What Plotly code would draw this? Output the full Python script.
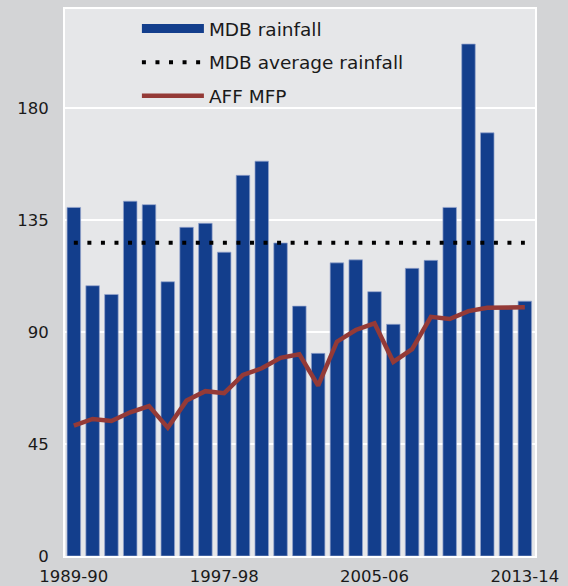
import plotly.graph_objects as go

# financial years 1989-90 .. 2013-14
years = [f"{y}-{str(y + 1)[-2:]}" for y in range(1989, 2014)]

# Murray-Darling Basin rainfall (index)
mdb_rainfall = [140.2, 108.7, 105.2, 142.7, 141.3, 110.3, 132.2, 133.8, 122.2, 153.1,
                158.8, 125.9, 100.5, 81.5, 117.9, 119.1, 106.3, 93.2, 115.7, 118.9,
                140.2, 205.9, 170.2, 99.5, 102.5]

# long-run average rainfall
mdb_average = [126.0] * len(years)

# agriculture, fisheries & forestry multifactor productivity
aff_mfp = [52.4, 55.1, 54.3, 57.8, 60.3, 51.6, 62.5, 66.3, 65.5, 72.8,
           75.5, 79.7, 81.1, 68.5, 86.2, 90.9, 93.6, 78.1, 83.2, 96.2,
           95.3, 98.5, 99.8, 100.0, 100.0]

tick_labels = ["1989-90", "1997-98", "2005-06", "2013-14"]

BLUE = "#133e8c"
RED = "#943a37"
FONT = "DejaVu Sans"

fig = go.Figure()

fig.add_trace(go.Bar(
    x=years, y=mdb_rainfall,
    marker=dict(color=BLUE, line=dict(color="rgba(150,165,205,0.7)", width=1)),
    showlegend=False,
))

# legend stand-in for the bars (wide block symbol)
fig.add_trace(go.Scatter(
    x=[None], y=[None], mode="lines",
    line=dict(color=BLUE, width=9),
    name="MDB rainfall", legendgroup="a",
))

fig.add_trace(go.Scatter(
    x=years, y=mdb_average, mode="lines",
    line=dict(color="black", width=4, dash="4px,9.55px"),
    name="MDB average rainfall", legendgroup="b",
))

fig.add_trace(go.Scatter(
    x=years, y=aff_mfp, mode="lines",
    line=dict(color=RED, width=4.5),
    name="AFF MFP", legendgroup="c",
))

fig.update_layout(
    width=568, height=586,
    margin=dict(l=65, r=33, t=9, b=30),
    paper_bgcolor="#d3d4d6",
    plot_bgcolor="#e6e7e9",
    bargap=0.28,
    font=dict(family=FONT, size=16.5, color="#1a1a1a"),
    legend=dict(
        x=0.153, y=0.998, xanchor="left", yanchor="top",
        bgcolor="rgba(0,0,0,0)",
        font=dict(size=18.5),
        itemwidth=62,
        tracegroupgap=6.5,
    ),
)

fig.update_xaxes(
    type="category",
    range=[-0.47, 24.54],
    tickvals=tick_labels,
    ticktext=tick_labels,
    showgrid=False,
    showline=True, mirror=True, linecolor="white", linewidth=2,
    ticks="outside", ticklen=4, tickcolor="rgba(0,0,0,0)",
    automargin=False,
)

fig.update_yaxes(
    range=[0, 220],
    tickvals=[0, 45, 90, 135, 180],
    showgrid=True, gridcolor="white", gridwidth=1.5,
    zeroline=False,
    showline=True, mirror=True, linecolor="white", linewidth=2,
    ticks="outside", ticklen=11, tickcolor="rgba(0,0,0,0)",
    automargin=False,
)

fig.write_html(
    "out.html",
    config={"displayModeBar": False},
    post_script="document.body.style.margin='0';",
)
